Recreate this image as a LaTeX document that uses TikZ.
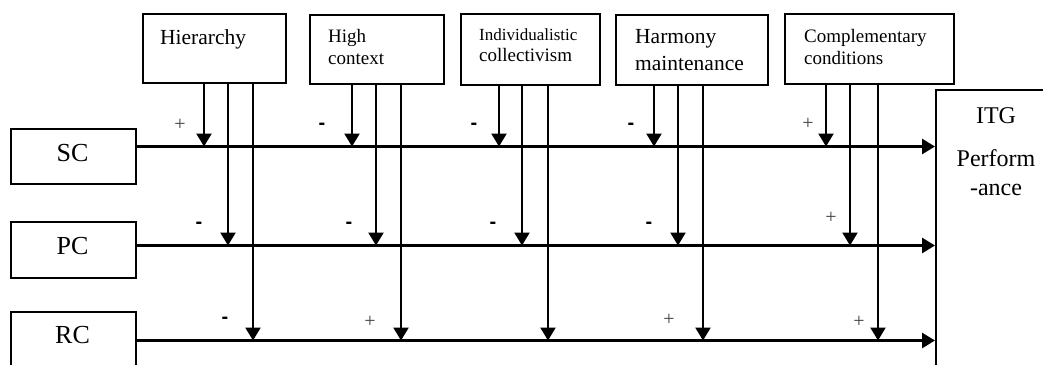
\documentclass[tikz,border=0pt]{standalone}
\usepackage{fontspec}
\setmainfont{Liberation Serif}
\newfontfamily\signfont{Liberation Sans}
\usetikzlibrary{arrows.meta}

\begin{document}
\begin{tikzpicture}[x=1pt,y=-1pt,
  box/.style={draw,line width=2.2pt,inner sep=0pt,anchor=north west},
  arr/.style={line width=2.4pt,-{Triangle[length=13pt,width=15pt]}},
  mainarr/.style={arr,line width=2.8pt},
  lbl/.style={anchor=base west,inner sep=0pt},
  big/.style={anchor=base,inner sep=0pt,font=\fontsize{26}{30}\selectfont},
  plus/.style={inner sep=0pt,text=black!75,font=\fontsize{20}{20}\selectfont},
  minus/.style={inner sep=0pt,font=\signfont\bfseries\fontsize{20}{20}\selectfont}]
\useasboundingbox (0,0) rectangle (1043,364);
\clip (0,0) rectangle (1043,364);

% moderator boxes along the top
\node[box,minimum width=143pt,minimum height=69pt] (hier) at (142,13) {};
\node[box,minimum width=134pt,minimum height=69pt] (hctx) at (309,14) {};
\node[box,minimum width=139pt,minimum height=71pt] (indc) at (460,13) {};
\node[box,minimum width=152pt,minimum height=70pt] (harm) at (615,14) {};
\node[box,minimum width=169pt,minimum height=70pt] (comp) at (784,13) {};

\node[lbl,font=\fontsize{21.5}{26}\selectfont] (hiert) at (160,44) {Hierarchy};
\node[lbl,font=\fontsize{19}{22}\selectfont] (hctxa) at (328,42) {High};
\node[lbl,font=\fontsize{19}{22}\selectfont] (hctxb) at (328,64) {context};
\node[lbl,font=\fontsize{17}{21}\selectfont] (indca) at (479,40) {Individualistic};
\node[lbl,font=\fontsize{19}{21}\selectfont] (indcb) at (479,61) {collectivism};
\node[lbl,font=\fontsize{21.5}{27}\selectfont] (harma) at (635,43) {Harmony};
\node[lbl,font=\fontsize{21.5}{27}\selectfont] (harmb) at (635,70) {maintenance};
\node[lbl,font=\fontsize{19}{22}\selectfont] (compa) at (804,42) {Complementary};
\node[lbl,font=\fontsize{19}{22}\selectfont] (compb) at (804,64) {conditions};

% capability boxes on the left and the outcome box on the right
\node[box,minimum width=125pt,minimum height=55pt] (SC) at (10,128) {};
\node[box,minimum width=125pt,minimum height=56pt] (PC) at (10,221) {};
\node[box,minimum width=125pt,minimum height=90pt] (RC) at (10,311) {};
\node[box,minimum width=200pt,minimum height=400pt] (ITG) at (935,89) {};

\node[big] (sct) at (72.5,161) {SC};
\node[big] (pct) at (72.5,254) {PC};
\node[big] (rct) at (72.5,343) {RC};
\node[big,font=\fontsize{24}{28}\selectfont] (itga) at (996,123) {ITG};
\node[big,font=\fontsize{24}{28}\selectfont] (itgb) at (996,166) {Perform};
\node[big,font=\fontsize{24}{28}\selectfont] (itgc) at (996,195) {-ance};

% points where the moderating arrows meet the main paths
\coordinate (ySC) at (0,146.5);
\coordinate (yPC) at (0,245.5);
\coordinate (yRC) at (0,340.5);

\coordinate (h1) at (204,146.5);  \coordinate (h2) at (228,245.5);  \coordinate (h3) at (253,340.5);
\coordinate (c1) at (352,146.5);  \coordinate (c2) at (376,245.5);  \coordinate (c3) at (401,340.5);
\coordinate (i1) at (499,146.5);  \coordinate (i2) at (522,245.5);  \coordinate (i3) at (548,340.5);
\coordinate (m1) at (654,146.5);  \coordinate (m2) at (678,245.5);  \coordinate (m3) at (703,340.5);
\coordinate (k1) at (826,146.5);  \coordinate (k2) at (850,245.5);  \coordinate (k3) at (878,340.5);

% main paths
\draw[mainarr] (SC.east |- ySC) -- (ITG.west |- ySC);
\draw[mainarr] (PC.east |- yPC) -- (ITG.west |- yPC);
\draw[mainarr] (RC.east |- yRC) -- (ITG.west |- yRC);

% moderating arrows
\foreach \b/\p in {hier/h,hctx/c,indc/i,harm/m,comp/k}{
  \draw[arr] (\b.south -| \p1) -- (\p1);
  \draw[arr] (\b.south -| \p2) -- (\p2);
  \draw[arr] (\b.south -| \p3) -- (\p3);
}

% signs of the effects
\node[plus]  (s-h1) at (180,125) {+};
\node[minus] (s-h2) at (199,225) {-};
\node[minus] (s-h3) at (225,320) {-};
\node[minus] (s-c1) at (322,126) {-};
\node[minus] (s-c2) at (349,225) {-};
\node[plus]  (s-c3) at (370,322) {+};
\node[minus] (s-i1) at (474,126) {-};
\node[minus] (s-i2) at (493,225) {-};
\node[minus] (s-m1) at (631,126) {-};
\node[minus] (s-m2) at (649,225) {-};
\node[plus]  (s-m3) at (669,320) {+};
\node[plus]  (s-k1) at (808,124) {+};
\node[plus]  (s-k2) at (831,218) {+};
\node[plus]  (s-k3) at (859,322) {+};
\end{tikzpicture}
\end{document}
